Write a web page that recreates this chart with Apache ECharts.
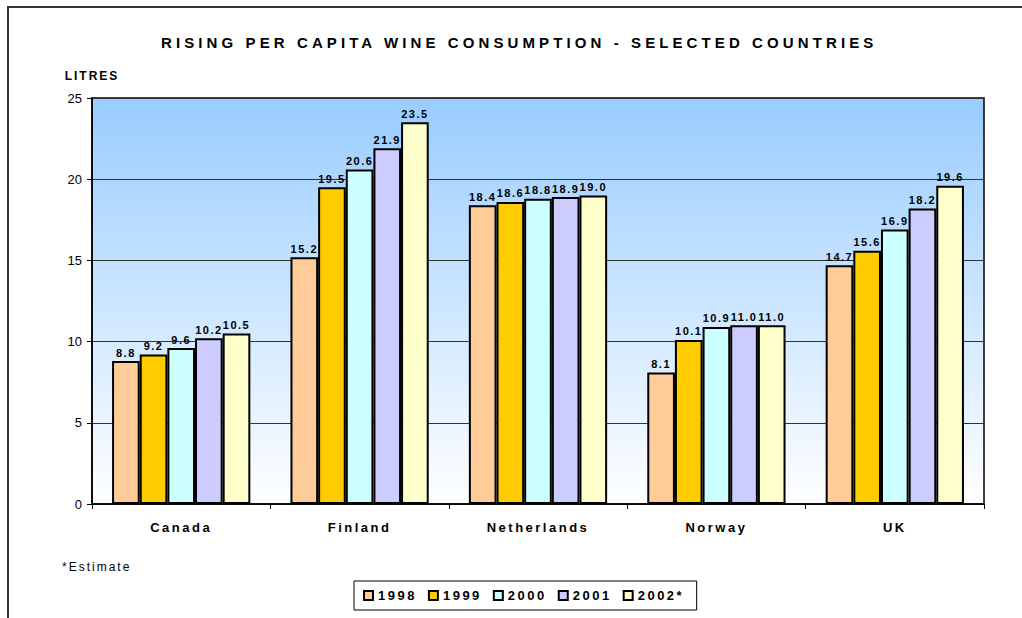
<!DOCTYPE html>
<html>
<head>
<meta charset="utf-8">
<script src="https://cdn.jsdelivr.net/npm/echarts@6/dist/echarts.min.js"></script>
<style>
  html, body { margin: 0; padding: 0; background: #fff; }
  #chart { width: 1022px; height: 618px; }
  /* Excel-style spaced lettering; axis numbers stay tight */
  #chart text { letter-spacing: 2.5px; }
  #chart text[text-anchor="end"] { letter-spacing: 0; }
  #chart text[style*="15px"] { letter-spacing: 4.1px; }
  #chart text[style*="12px"] { letter-spacing: 2px; }
  #chart text[style*="11px"] { letter-spacing: 1.5px; }
</style>
</head>
<body>
<div id="chart"></div>
<script>
const countries = ['Canada', 'Finland', 'Netherlands', 'Norway', 'UK'];
const years = ['1998', '1999', '2000', '2001', '2002*'];
const yearColors = ['#ffcc99', '#ffcc00', '#ccffff', '#ccccff', '#ffffcc'];

// litres per capita, one array per year, in country order
const litres1998 = [8.8, 15.2, 18.4, 8.1, 14.7];
const litres1999 = [9.2, 19.5, 18.6, 10.1, 15.6];
const litres2000 = [9.6, 20.6, 18.8, 10.9, 16.9];
const litres2001 = [10.2, 21.9, 18.9, 11.0, 18.2];
const litres2002 = [10.5, 23.5, 19.0, 11.0, 19.6];
const seriesValues = [litres1998, litres1999, litres2000, litres2001, litres2002];

const yTicks = { min: 0, max: 25, interval: 5 };

const font = 'Arial, "Liberation Sans", sans-serif';

const chart = echarts.init(document.getElementById('chart'), null, { renderer: 'svg' });

chart.setOption({
  animation: false,
  backgroundColor: '#ffffff',
  textStyle: { fontFamily: font, color: '#000' },
  title: [
    {
      text: 'RISING PER CAPITA WINE CONSUMPTION - SELECTED COUNTRIES',
      left: 161,
      top: 35,
      padding: 0,
      textStyle: { fontSize: 15, fontWeight: 'bold', color: '#000', fontFamily: font },
    },
    {
      text: '*Estimate',
      left: 62,
      top: 561,
      padding: 0,
      textStyle: { fontSize: 12, fontWeight: 'normal', color: '#000', fontFamily: font },
    },
  ],
  graphic: [
    {
      // outer frame, only left and top edges are visible in the crop
      type: 'polyline',
      shape: { points: [[8, 618], [8, 7], [1022, 7]] },
      style: { stroke: '#333', lineWidth: 2, fill: null },
      silent: true,
    },
  ],
  legend: {
    data: years,
    left: 354,
    top: 581,
    orient: 'horizontal',
    itemWidth: 9,
    itemHeight: 9,
    itemGap: 21,
    padding: [8, 25, 8, 9],
    borderColor: '#000',
    borderWidth: 1,
    backgroundColor: '#fff',
    icon: 'rect',
    textStyle: { fontSize: 13, fontWeight: 'bold', color: '#000', fontFamily: font },
  },
  grid: {
    left: 92,
    right: 38,
    top: 98,
    bottom: 114,
    show: true,
    borderColor: '#000',
    borderWidth: 1.5,
    backgroundColor: new echarts.graphic.LinearGradient(0, 0, 0, 1, [
      { offset: 0, color: '#99ccff' },
      { offset: 1, color: '#ffffff' },
    ]),
  },
  xAxis: {
    type: 'category',
    data: countries,
    axisLine: { lineStyle: { color: '#000', width: 1.5 } },
    axisTick: { show: true, length: 5, lineStyle: { color: '#000' } },
    axisLabel: { fontSize: 13, fontWeight: 'bold', color: '#000', margin: 17, fontFamily: font },
  },
  yAxis: {
    type: 'value',
    min: yTicks.min,
    max: yTicks.max,
    interval: yTicks.interval,
    name: 'LITRES',
    nameLocation: 'end',
    nameGap: 22,
    nameTextStyle: {
      fontSize: 12, fontWeight: 'bold', color: '#000', align: 'center', verticalAlign: 'middle', fontFamily: font,
    },
    axisLine: { show: true, lineStyle: { color: '#000', width: 1.5 } },
    axisTick: { show: true, length: 5, lineStyle: { color: '#000' } },
    axisLabel: { fontSize: 13, color: '#000', margin: 10, fontFamily: font },
    splitLine: { show: true, lineStyle: { color: '#333', width: 1 } },
  },
  series: years.map((year, i) => ({
    name: year,
    type: 'bar',
    data: seriesValues[i],
    barGap: '0%',
    barCategoryGap: '22.5%',
    itemStyle: { color: yearColors[i], borderColor: '#000', borderWidth: 2 },
    label: {
      show: true,
      position: 'top',
      distance: 3,
      fontSize: 11,
      fontWeight: 'bold',
      color: '#000',
      fontFamily: font,
      formatter: (p) => p.value.toFixed(1),
    },
  })),
});
</script>
</body>
</html>
